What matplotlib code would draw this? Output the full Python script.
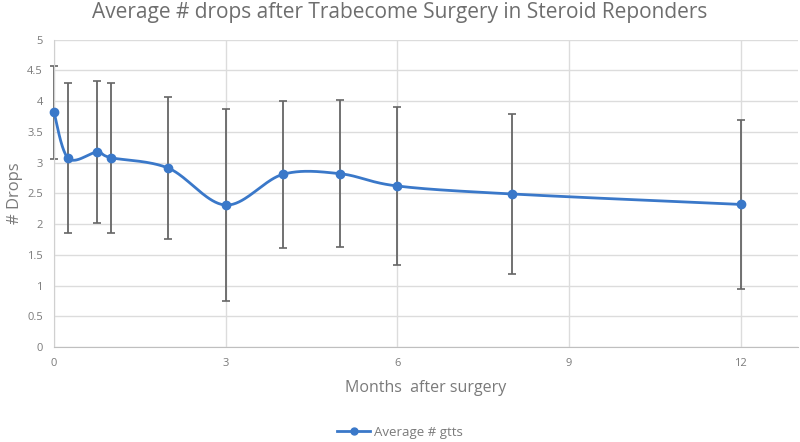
import numpy as np
import matplotlib
matplotlib.use("Agg")
import matplotlib.pyplot as plt
from matplotlib.lines import Line2D

# Données
months = [0, 0.25, 0.75, 1, 2, 3, 4, 5, 6, 8, 12]
avg_drops = [3.82, 3.07, 3.17, 3.08, 2.91, 2.31, 2.81, 2.82, 2.62, 2.49, 2.32]
sd_drops = [0.76, 1.22, 1.16, 1.22, 1.16, 1.56, 1.20, 1.20, 1.28, 1.31, 1.37]

x_ticks = [0, 3, 6, 9, 12]
y_ticks = [0, 0.5, 1, 1.5, 2, 2.5, 3, 3.5, 4, 4.5, 5]
y_tick_labels = ['0', '0.5', '1', '1.5', '2', '2.5', '3', '3.5', '4', '4.5', '5']

blue = '#3a78c9'
grey_txt = '#7a7a7a'


def courbe_lissee(x, y, n=40):
    # lissage de type Excel (Catmull-Rom -> Bezier)
    x = np.asarray(x, float)
    y = np.asarray(y, float)
    px, py = [], []
    for i in range(len(x) - 1):
        x0, y0 = (x[i - 1], y[i - 1]) if i > 0 else (x[i], y[i])
        x3, y3 = (x[i + 2], y[i + 2]) if i + 2 < len(x) else (x[i + 1], y[i + 1])
        x1, y1, x2, y2 = x[i], y[i], x[i + 1], y[i + 1]
        c1x, c1y = x1 + (x2 - x0) / 6, y1 + (y2 - y0) / 6
        c2x, c2y = x2 - (x3 - x1) / 6, y2 - (y3 - y1) / 6
        t = np.linspace(0, 1, n)
        bx = (1 - t) ** 3 * x1 + 3 * (1 - t) ** 2 * t * c1x + 3 * (1 - t) * t ** 2 * c2x + t ** 3 * x2
        by = (1 - t) ** 3 * y1 + 3 * (1 - t) ** 2 * t * c1y + 3 * (1 - t) * t ** 2 * c2y + t ** 3 * y2
        px.extend(bx)
        py.extend(by)
    return px, py


plt.rcParams['font.family'] = ['Open Sans', 'DejaVu Sans']
fig = plt.figure(figsize=(8, 4.42), dpi=100)
ax = fig.add_axes([0.0675, 0.215, 0.93, 0.695])

eb = ax.errorbar(months, avg_drops, yerr=sd_drops, fmt='none', ecolor='#666666',
                 elinewidth=1.3, capsize=3, capthick=1.2, zorder=2)
for art in eb.lines[1] + eb.lines[2]:
    art.set_clip_on(False)
sx, sy = courbe_lissee(months, avg_drops)
ax.plot(sx, sy, color=blue, linewidth=2, zorder=3)
ax.plot(months, avg_drops, 'o', color=blue, markersize=6, zorder=4, clip_on=False)

ax.set_xlim(0, 13)
ax.set_ylim(0, 5)
ax.set_xticks(x_ticks)
ax.set_yticks(y_ticks)
ax.set_yticklabels(y_tick_labels)
ax.grid(True, color='#dcdcdc', linewidth=1)
ax.set_axisbelow(True)
for s in ['top', 'right']:
    ax.spines[s].set_visible(False)
ax.spines['left'].set_color('#d0d0d0')
ax.spines['bottom'].set_color('#bfbfbf')
ax.tick_params(length=0, labelsize=8, labelcolor=grey_txt, pad=8)

ax.set_xlabel('Months  after surgery', fontsize=11.5, color=grey_txt, labelpad=8)
ax.set_ylabel('# Drops', fontsize=12, color=grey_txt, labelpad=3)
fig.suptitle('Average # drops after Trabecome Surgery in Steroid Reponders',
             fontsize=15, color='#6e6e6e', y=0.995)

handle = Line2D([], [], color=blue, linewidth=2, marker='o', markersize=5)
fig.legend([handle], ['Average # gtts'], loc='center', bbox_to_anchor=(0.5, 0.022),
           frameon=False, fontsize=9.5, labelcolor=grey_txt, handlelength=2.5,
           handletextpad=0.3)

fig.savefig('out.png', dpi=100)
